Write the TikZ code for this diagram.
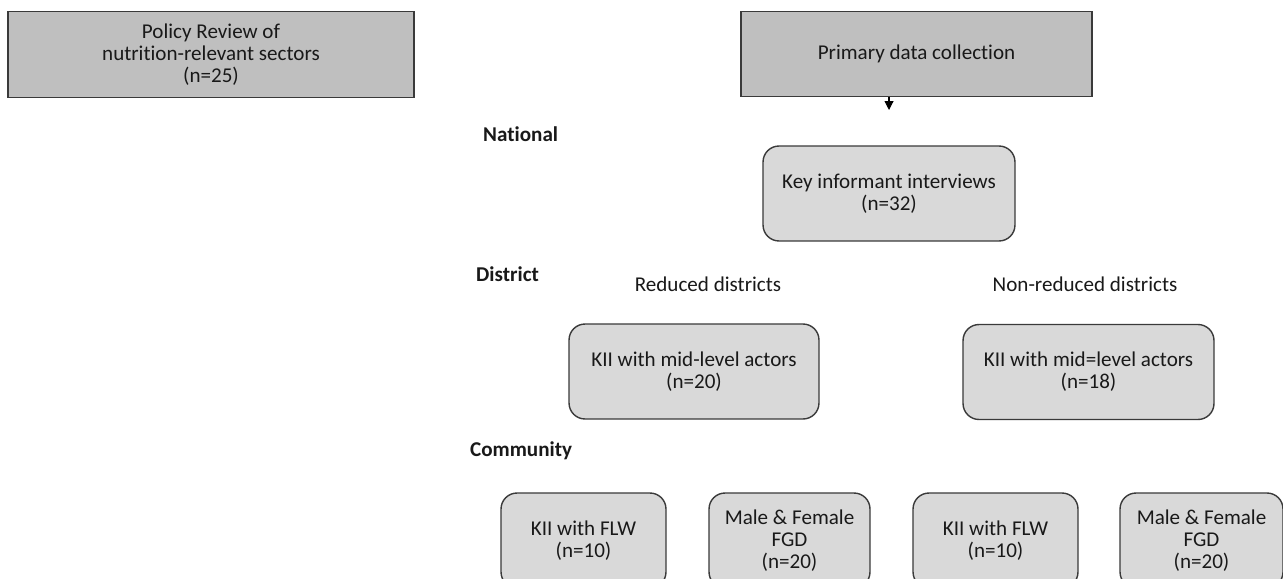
\documentclass[tikz,border=0pt]{standalone}
\usepackage{fontspec}
\setmainfont[Ligatures=NoCommon]{Carlito}
\usepackage{xcolor}
\usetikzlibrary{arrows.meta}

\definecolor{darkbox}{HTML}{BFBFBF}
\definecolor{lightbox}{HTML}{D9D9D9}
\definecolor{edge}{HTML}{3A3A3A}

\begin{document}
\begin{tikzpicture}[x=0.02cm, y=-0.02cm]
    % Box style definitions
    \tikzset{
        every node/.style={font=\fontsize{12}{12.4}\selectfont, text=black!90},
        headbox/.style={draw=edge, fill=darkbox, line width=0.8pt, align=center, minimum height=1.71cm},
        roundbox/.style={draw=edge, fill=lightbox, line width=0.8pt, rounded corners=0.32cm, align=center, minimum height=1.9cm},
        level/.style={font=\fontsize{12}{12.4}\selectfont\bfseries, anchor=west},
        arrowline/.style={draw=black, line width=0.6pt, -{Triangle[width=5pt, length=5pt]}}
    }

    % page size of the reference
    \clip (0,0) rectangle (1283,578);
    \fill[white] (0,0) rectangle (1283,578);

    % ==========================================
    % TOP ROW
    % ==========================================
    \node[headbox, minimum width=8.12cm] (policy) at (211,54.5) {Policy Review of\\nutrition-relevant sectors\\(n=25)};
    \node[headbox, minimum width=7.02cm] (primary) at (916.5,54) {Primary data collection};

    % ==========================================
    % NATIONAL
    % ==========================================
    \node[level] (national) at (477,134) {National};
    \node[roundbox, minimum width=5.04cm] (kiiNat) at (889,193.5) {Key informant interviews\\(n=32)};
    \coordinate (arrowEnd) at (889,110);
    \draw[arrowline] (kiiNat.north |- primary.south) -- (arrowEnd);

    % ==========================================
    % DISTRICT
    % ==========================================
    \node[level] (district) at (470,274) {District};
    \node (reduced) at (708,284) {Reduced districts};
    \node (nonReduced) at (1085,284) {Non-reduced districts};
    \node[roundbox, minimum width=5.0cm] (kiiRed) at (694,371.5) {KII with mid-level actors\\(n=20)};
    \node[roundbox, minimum width=5.02cm] (kiiNon) at (1088.5,372) {KII with mid=level actors\\(n=18)};

    % ==========================================
    % COMMUNITY (boxes run past the lower edge)
    % ==========================================
    \node[level] (community) at (464,451) {Community};
    \node[roundbox, minimum width=3.3cm] (flwRed) at (583.5,540.5) {KII with FLW\\(n=10)};
    \node[roundbox, minimum width=3.22cm] (fgdRed) at (789.5,540.5) {Male \& Female\\FGD\\(n=20)};
    \node[roundbox, minimum width=3.3cm] (flwNon) at (995.5,540.5) {KII with FLW\\(n=10)};
    \node[roundbox, minimum width=3.26cm] (fgdNon) at (1201.5,540.5) {Male \& Female\\FGD\\(n=20)};
\end{tikzpicture}
\end{document}
